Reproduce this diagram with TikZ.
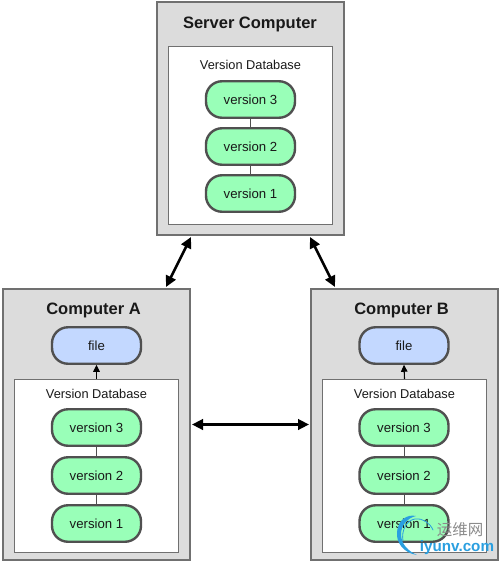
\documentclass[tikz,border=0pt]{standalone}
\usepackage{fontspec}
\setmainfont{Liberation Sans}
\newfontfamily\cjkwm{Noto Sans CJK SC}
\usetikzlibrary{arrows.meta}
\definecolor{boxfill}{HTML}{DCDCDC}
\definecolor{boxline}{HTML}{707070}
\definecolor{pillline}{HTML}{505050}
\definecolor{vergreen}{HTML}{99FFB8}
\definecolor{fileblue}{HTML}{C3D8FF}
\definecolor{wmblue}{HTML}{2A9FE0}
\tikzset{
  comp/.style={draw=boxline,line width=1.3pt,fill=boxfill,inner sep=0pt,outer sep=0pt,rectangle},
  dbase/.style={draw=boxline,line width=1pt,fill=white,inner sep=0pt,outer sep=0pt,rectangle},
  pill/.style={draw=pillline,line width=2.4pt,rounded corners=16pt,minimum width=89pt,minimum height=36.5pt,inner sep=0pt,outer sep=1pt,font=\fontsize{13.2}{15}\selectfont,text=black!90},
  verpill/.style={pill,fill=vergreen},
  filepill/.style={pill,fill=fileblue},
  ttl/.style={font=\bfseries\fontsize{16.5}{19}\selectfont,text=black!90,inner sep=0pt},
  dbl/.style={font=\fontsize{12.8}{15}\selectfont,text=black!90,inner sep=0pt},
  link/.style={draw=pillline,line width=1pt},
  sync/.style={line width=2.6pt,black,{Triangle[length=11pt,width=10.5pt]}-{Triangle[length=11pt,width=10.5pt]}},
  fetch/.style={line width=1.1pt,black,-{Triangle[length=7pt,width=6.5pt]}}
}
\begin{document}
\begin{tikzpicture}[x=1pt,y=-1pt]
\useasboundingbox (0,0) rectangle (500,563);
% Server
\node[comp,minimum width=187pt,minimum height=233pt] (srv) at (250.5,118.5) {};
\node[ttl] (srvt) at (250,24.5) {Server Computer};
\node[dbase,minimum width=164pt,minimum height=178pt] (srvdb) at (250,135) {};
\node[dbl] (srvl) at (250.5,65) {Version Database};
\node[verpill] (s3) at (250.5,99.5) {version 3};
\node[verpill] (s2) at (250.5,146.5) {version 2};
\node[verpill] (s1) at (250.5,193.5) {version 1};
\draw[link] (s3) -- (s2);
\draw[link] (s2) -- (s1);
% Computer A
\node[comp,minimum width=187pt,minimum height=271pt] (a) at (96.5,424.5) {};
\node[ttl] (at) at (93.5,310.5) {Computer A};
\node[filepill] (afile) at (96.5,345.5) {file};
\node[dbase,minimum width=164pt,minimum height=173pt] (adb) at (96.5,465.5) {};
\node[dbl] (al) at (96.5,394) {Version Database};
\node[verpill] (a3) at (96.5,427.5) {version 3};
\node[verpill] (a2) at (96.5,475.5) {version 2};
\node[verpill] (a1) at (96.5,523.5) {version 1};
\draw[link] (a3) -- (a2);
\draw[link] (a2) -- (a1);
\draw[fetch] (adb.north) -- (afile.south);
% Computer B
\node[comp,minimum width=187pt,minimum height=271pt] (b) at (404.5,424.5) {};
\node[ttl] (bt) at (401.5,310.5) {Computer B};
\node[filepill] (bfile) at (404,345.5) {file};
\node[dbase,minimum width=164pt,minimum height=173pt] (bdb) at (404.5,465.5) {};
\node[dbl] (bl) at (404.5,394) {Version Database};
\node[verpill] (b3) at (404,427.5) {version 3};
\node[verpill] (b2) at (404,475.5) {version 2};
\node[verpill] (b1) at (404,523.5) {version 1};
\draw[link] (b3) -- (b2);
\draw[link] (b2) -- (b1);
\draw[fetch] (bdb.north) -- (bfile.south);
% Sync arrows
\coordinate (sa) at (191,237);
\coordinate (as) at (166,287);
\coordinate (sb) at (310,237);
\coordinate (bs) at (335,287);
\draw[sync] (sa) -- (as);
\draw[sync] (sb) -- (bs);
\draw[sync,shorten <=2pt,shorten >=2pt] (a.east) -- (b.west);
% Watermark
\fill[wmblue] (417,555) .. controls (403,553) and (396,542) .. (397,532) .. controls (398,520) and (407,514) .. (416,516) .. controls (407,518) and (401,526) .. (401,534) .. controls (401,544) and (408,551) .. (417,555) -- cycle;
\draw[wmblue,line width=0.8pt,line cap=round] (403,541) .. controls (401,530) and (407,520) .. (415,519) .. controls (423,518) and (430,523) .. (433,530);
\node[font=\cjkwm\fontsize{15.5}{17}\selectfont,text=black!45,inner sep=0pt] (wmcn) at (460,529.5) {运维网};
\node[font=\bfseries\fontsize{15.2}{17}\selectfont,text=wmblue,inner sep=0pt] (wmen) at (457,547.5) {iyunv.com};
\end{tikzpicture}
\end{document}
